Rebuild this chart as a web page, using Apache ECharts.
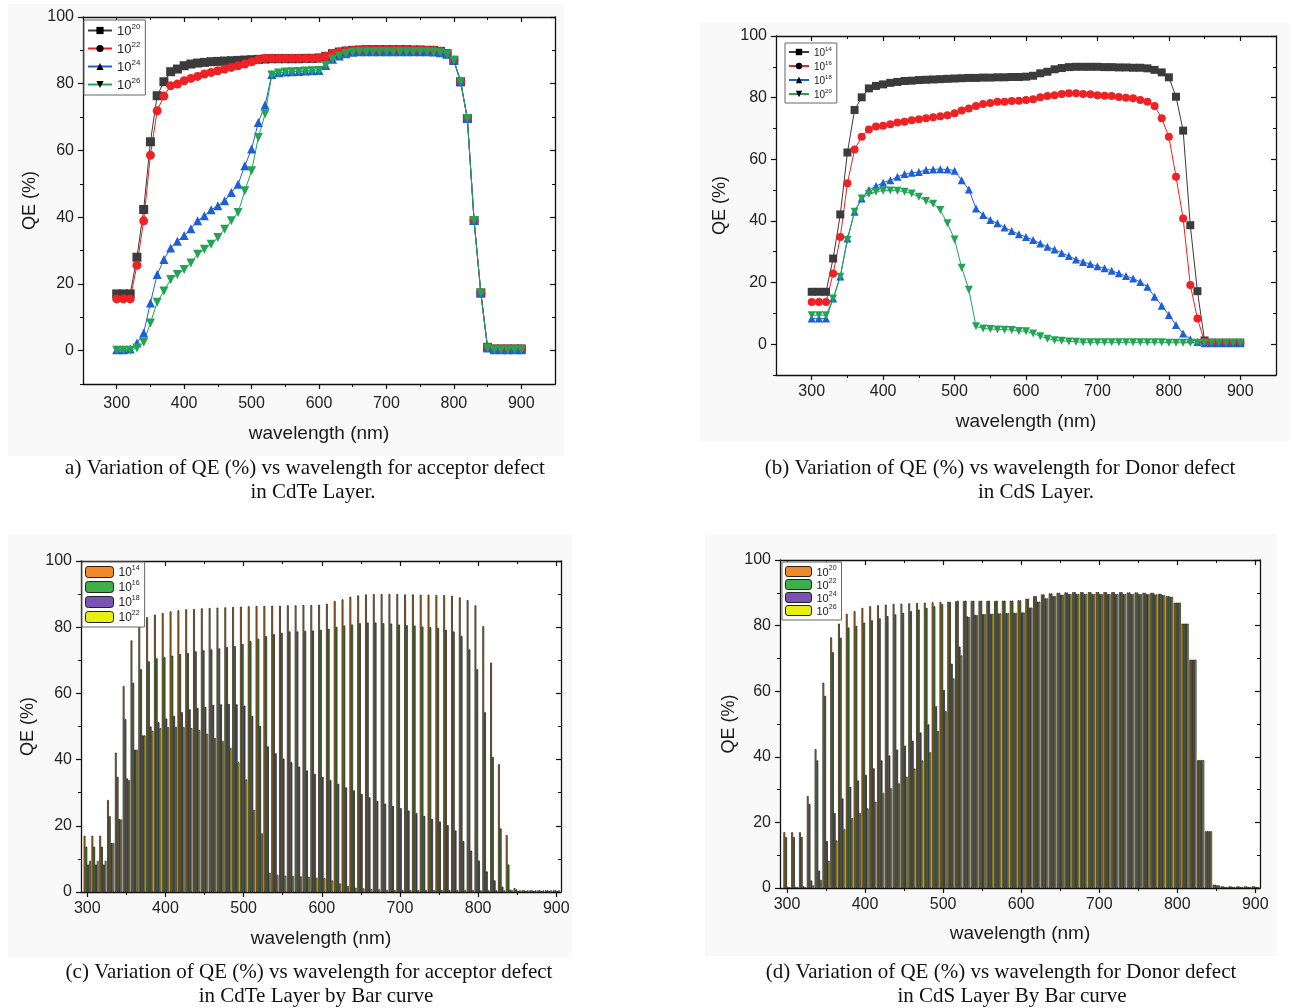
<!DOCTYPE html>
<html><head><meta charset="utf-8">
<script src="https://cdn.jsdelivr.net/npm/echarts@6/dist/echarts.min.js"></script>
<style>html,body{margin:0;padding:0;background:#fff}#c{width:1293px;height:1008px}</style>
</head><body><div id="c"></div>
<script>
// ---------------- DATA ----------------
const wavelength = [300,310,320,330,340,350,360,370,380,390,
  400,410,420,430,440,450,460,470,480,490,
  500,510,520,530,540,550,560,570,580,590,
  600,610,620,630,640,650,660,670,680,690,
  700,710,720,730,740,750,760,770,780,790,
  800,810,820,830,840,850,860,870,880,890,900];

// Panel (a)/(d): acceptor defect in CdTe
const qeA_1e20 = [17,17,17,28,42.3,62.6,76.4,80.6,83.6,84.4,
  85.4,85.9,86.2,86.4,86.6,86.7,86.8,86.9,87,87.1,
  87.2,87.3,87.4,87.5,87.5,87.5,87.5,87.5,87.6,87.6,
  87.7,88.2,89,89.5,89.8,90,90.1,90.2,90.2,90.2,
  90.2,90.2,90.2,90.2,90.1,90.1,90,90,89.7,89,
  87,80.6,69.6,39,17.3,1,0.5,0.5,0.5,0.5,0.5];
const qeA_1e22 = [15.5,15.5,15.5,25.6,38.9,58.6,71.9,76.3,79.4,79.9,
  80.9,81.6,82.2,82.9,83.4,83.9,84.4,84.9,85.4,85.9,
  86.6,87.2,87.6,87.6,87.6,87.6,87.6,87.6,87.6,87.6,
  87.7,88.2,89,89.5,89.8,90,90.1,90.2,90.2,90.2,
  90.2,90.2,90.2,90.2,90.1,90.1,90,90,89.7,89,
  87,80.6,69.6,39,17.3,1,0.5,0.5,0.5,0.5,0.5];
const qeA_1e24 = [0.3,0.3,0.5,2.3,5.3,14.3,22.8,27.3,30.8,32.8,
  34.5,36.5,38.9,40.4,42.2,43.4,44.9,47.4,49.9,55.4,
  60.4,68.4,73.6,82.8,83.3,83.5,83.6,83.7,83.8,83.9,
  84,85.5,87.3,88.3,89,89.4,89.6,89.6,89.6,89.6,
  89.6,89.6,89.6,89.6,89.6,89.6,89.6,89.5,89.3,88.8,
  87,80.6,69.6,39,17.3,0.8,0.3,0.3,0.3,0.3,0.3];
const qeA_1e26 = [0.1,0.1,0.1,0.8,2.5,8.3,14.5,17.9,21.3,22.8,
  24.3,26.3,28.9,30.4,31.9,33.9,36.4,38.9,41.4,47.9,
  53.9,63.9,70.9,82.6,83.2,83.5,83.6,83.7,83.8,83.9,
  84,85.5,87.3,88.3,89,89.4,89.6,89.6,89.6,89.6,
  89.6,89.6,89.6,89.6,89.6,89.6,89.6,89.5,89.3,88.8,
  87,80.6,69.6,39,17.3,0.8,0.3,0.3,0.3,0.3,0.3];

// Panel (b)/(c): donor defect in CdS
const qeB_1e14 = [17,17,17,27.8,42.1,62.2,76,80.1,83,83.8,
  84.3,84.8,85.1,85.4,85.5,85.7,85.8,85.9,86,86.1,
  86.2,86.3,86.4,86.4,86.5,86.5,86.6,86.6,86.7,86.7,
  86.8,87.1,87.9,88.4,89.2,89.6,89.9,90,90,90,
  90,89.9,89.9,89.8,89.8,89.7,89.7,89.5,89,88.2,
  86.6,80.3,69.3,38.6,17.2,1.2,0.5,0.5,0.5,0.5,0.5];
const qeB_1e16 = [13.7,13.7,13.7,22.9,34.8,52.2,63.2,67.3,69.7,70.6,
  70.9,71.4,71.9,72.2,72.7,73,73.3,73.6,74,74.3,
  74.9,75.8,76.5,77.3,77.9,78.3,78.7,78.7,78.9,79,
  79.2,79.5,80.1,80.5,80.8,81.2,81.4,81.4,81.2,81.1,
  80.8,80.6,80.5,80.2,80,79.8,79.2,78.7,77.3,73.3,
  67.3,54.3,40.8,19.2,8.3,0.8,0.5,0.5,0.5,0.5,0.5];
const qeB_1e18 = [8.3,8.3,8.3,14.8,22,34.3,43,47.3,50,51.3,
  52.4,53.2,54.3,55.2,55.6,55.9,56.5,56.7,56.8,56.7,
  56.3,53.2,50.2,44,41.9,40.3,39.2,37.9,36.7,35.7,
  34.8,33.8,32.7,31.6,30.7,29.6,28.6,27.5,26.7,26,
  25.3,24.6,23.8,23,22.1,21.3,20.2,18.6,15.4,12.5,
  9.5,6.2,3.5,1.6,0.7,0.3,0.3,0.3,0.3,0.3,0.3];
const qeB_1e20 = [9.4,9.4,9.4,14.8,21.9,33.8,43,47.3,48.7,49.5,
  49.8,49.9,49.8,49.5,48.9,47.8,46.5,45.6,43.5,39.2,
  34,24.8,17.7,5.8,5.1,4.9,4.8,4.7,4.6,4.3,
  4.2,3.5,2.6,1.8,1.3,1.1,0.9,0.8,0.6,0.6,
  0.6,0.6,0.6,0.6,0.6,0.6,0.6,0.6,0.6,0.6,
  0.5,0.5,0.5,0.5,0.5,0.5,0.5,0.5,0.5,0.5,0.5];

// tick labels
const xMajorTicks = [300,400,500,600,700,800,900];
const xMinorTicks = [250,350,450,550,650,750,850,950];
const yMajorTicks = [0,20,40,60,80,100];
const yMinorTicks = [-10,10,30,50,70,90];

// legend labels (exponent of 10)
const legendA = ['20','22','24','26'];
const legendB = ['14','16','18','20'];
const legendC = ['14','16','18','22'];
const legendD = ['20','22','24','26'];

const captions = [
  ['a) Variation of QE (%) vs wavelength for acceptor defect', 'in CdTe Layer.'],
  ['(b) Variation of QE (%) vs wavelength for Donor defect', 'in CdS Layer.'],
  ['(c) Variation of QE (%) vs wavelength for acceptor defect', 'in CdTe Layer by Bar curve'],
  ['(d) Variation of QE (%) vs wavelength for Donor defect', 'in CdS Layer By Bar curve']
];

// ---------------- STYLE / LAYOUT ----------------
const FONT = '"Liberation Sans", Arial, sans-serif';
const lineColors = ['#3b3b3b', '#ee2224', '#1d5fd8', '#22a454'];
const barColors = ['#f0892a', '#3cae4a', '#7a52b3', '#e6ef10'];
const invTri = 'path://M0,0L10,0L5,9Z';
const lineSymbols = ['rect', 'circle', 'triangle', invTri];

const panels = [
  {grid:{left:83, top:17, width:472, height:367}, xmin:250, xmax:950, ymin:-10, ymax:100, xm:12, ym:9, xg:40, yg:44},
  {grid:{left:776, top:36, width:500, height:339}, xmin:250, xmax:950, ymin:-10, ymax:100, xm:9, ym:9, xg:37, yg:47},
  {grid:{left:81, top:561, width:480, height:331}, xmin:292, xmax:906, ymin:0, ymax:100, xm:9, ym:9, xg:37, yg:44},
  {grid:{left:780, top:560, width:480, height:328}, xmin:291, xmax:906, ymin:0, ymax:100, xm:9, ym:9, xg:36, yg:42}
];

const xAxes = [], yAxes = [], grids = [];
const mainX = [], mainY = [];
const AX = '#111';
panels.forEach((p, g) => {
  grids.push(Object.assign({containLabel:false}, p.grid));
  const xMin = xMinorTicks.filter(v => v > p.xmin && v < p.xmax);
  const yMin = yMinorTicks.filter(v => v >= p.ymin && v <= p.ymax);
  const base = {type:'value', gridIndex:g, splitLine:{show:false}};
  mainX.push(xAxes.length);
  xAxes.push(Object.assign({}, base, {
    min:p.xmin, max:p.xmax, position:'bottom',
    name:'wavelength (nm)', nameLocation:'middle', nameGap:p.xg,
    nameTextStyle:{fontFamily:FONT, fontSize:19, color:'#1a1a1a'},
    axisLine:{show:true, onZero:false, lineStyle:{color:AX, width:1.3}},
    axisTick:{show:true, inside:false, length:5, customValues:xMajorTicks, lineStyle:{color:AX, width:1.2}},
    axisLabel:{show:true, customValues:xMajorTicks, margin:p.xm, fontFamily:FONT, fontSize:16, color:'#222'}
  }));
  xAxes.push(Object.assign({}, base, {
    min:p.xmin, max:p.xmax, position:'bottom',
    axisLine:{show:false, onZero:false},
    axisTick:{show:true, inside:false, length:3, customValues:xMin, lineStyle:{color:AX, width:1}},
    axisLabel:{show:false, customValues:xMin}
  }));
  xAxes.push(Object.assign({}, base, {
    min:p.xmin, max:p.xmax, position:'top',
    axisLine:{show:true, onZero:false, lineStyle:{color:AX, width:1.3}},
    axisTick:{show:true, inside:true, length:5, customValues:xMajorTicks, lineStyle:{color:AX, width:1.2}},
    axisLabel:{show:false, customValues:xMajorTicks}
  }));
  xAxes.push(Object.assign({}, base, {
    min:p.xmin, max:p.xmax, position:'top',
    axisLine:{show:false, onZero:false},
    axisTick:{show:true, inside:true, length:3, customValues:xMin, lineStyle:{color:AX, width:1}},
    axisLabel:{show:false, customValues:xMin}
  }));
  mainY.push(yAxes.length);
  yAxes.push(Object.assign({}, base, {
    min:p.ymin, max:p.ymax, position:'left',
    name:'QE (%)', nameLocation:'middle', nameGap:p.yg, nameRotate:90,
    nameTextStyle:{fontFamily:FONT, fontSize:18, color:'#1a1a1a'},
    axisLine:{show:true, onZero:false, lineStyle:{color:AX, width:1.3}},
    axisTick:{show:true, inside:false, length:5, customValues:yMajorTicks, lineStyle:{color:AX, width:1.2}},
    axisLabel:{show:true, customValues:yMajorTicks, margin:p.ym, fontFamily:FONT, fontSize:16, color:'#222'}
  }));
  yAxes.push(Object.assign({}, base, {
    min:p.ymin, max:p.ymax, position:'left',
    axisLine:{show:false, onZero:false},
    axisTick:{show:true, inside:false, length:3, customValues:yMin, lineStyle:{color:AX, width:1}},
    axisLabel:{show:false, customValues:yMin}
  }));
  yAxes.push(Object.assign({}, base, {
    min:p.ymin, max:p.ymax, position:'right',
    axisLine:{show:true, onZero:false, lineStyle:{color:AX, width:1.3}},
    axisTick:{show:true, inside:true, length:5, customValues:yMajorTicks, lineStyle:{color:AX, width:1.2}},
    axisLabel:{show:false, customValues:yMajorTicks}
  }));
  yAxes.push(Object.assign({}, base, {
    min:p.ymin, max:p.ymax, position:'right',
    axisLine:{show:false, onZero:false},
    axisTick:{show:true, inside:true, length:3, customValues:yMin, lineStyle:{color:AX, width:1}},
    axisLabel:{show:false, customValues:yMin}
  }));
});

const pairs = arr => wavelength.map((w, i) => [w, arr[i]]);
const labelMap = {};
const series = [];

function addLines(g, prefix, arrays, exps, size) {
  arrays.forEach((arr, k) => {
    const name = prefix + exps[k];
    labelMap[name] = exps[k];
    series.push({
      type:'line', name, xAxisIndex:mainX[g], yAxisIndex:mainY[g],
      data:pairs(arr), symbol:lineSymbols[k], symbolSize:size,
      showAllSymbol:true, animation:false,
      itemStyle:{color:lineColors[k]},
      lineStyle:{color:lineColors[k], width:1}
    });
  });
}
function addBars(g, prefix, arrays, exps) {
  arrays.forEach((arr, k) => {
    const name = prefix + exps[k];
    labelMap[name] = exps[k];
    series.push({
      type:'bar', name, xAxisIndex:mainX[g], yAxisIndex:mainY[g],
      data:pairs(arr), barWidth:1.8, barGap:'0%', animation:false,
      itemStyle:{color:barColors[k], borderColor:'#15140c', borderWidth:0.7}
    });
  });
}
addLines(0, 'a', [qeA_1e20, qeA_1e22, qeA_1e24, qeA_1e26], legendA, 9);
addLines(1, 'b', [qeB_1e14, qeB_1e16, qeB_1e18, qeB_1e20], legendB, 8);
addBars(2, 'c', [qeB_1e14, qeB_1e16, qeB_1e18, qeB_1e20], legendC);
addBars(3, 'd', [qeA_1e20, qeA_1e22, qeA_1e24, qeA_1e26], legendD);

function legendFor(prefix, exps, pos, fs, iw, ih, gap, isBar) {
  const lh = Math.round(fs * 1.15);
  return Object.assign({
    orient:'vertical', data:exps.map(e => prefix + e),
    itemWidth:iw, itemHeight:ih, itemGap:gap,
    backgroundColor:'#fff', borderColor:'#666', borderWidth:1, borderRadius:0,
    padding:[3,5,3,3], selectedMode:false,
    formatter: n => '{b|10}{s|' + labelMap[n] + '}',
    textStyle:{fontFamily:FONT, fontSize:fs, color:'#222',
      rich:{
        b:{fontSize:fs, lineHeight:lh, verticalAlign:'bottom', color:'#222', fontFamily:FONT},
        s:{fontSize:Math.round(fs*0.62), verticalAlign:'top', color:'#222', fontFamily:FONT}
      }},
    itemStyle: isBar ? {borderColor:'#222', borderWidth:1} : undefined
  }, pos);
}

const legends = [
  legendFor('a', legendA, {left:84, top:20}, 13, 24, 9, 3, false),
  legendFor('b', legendB, {left:785, top:43}, 10, 20, 8, 2, false),
  legendFor('c', legendC, {left:82, top:562}, 12, 28, 11, 1, true),
  legendFor('d', legendD, {left:782, top:562}, 11, 26, 10, 0, true)
];

const capCenters = [[305, 468, 313, 492], [1000, 468, 1036, 492], [309, 972, 316, 996], [1001, 972, 1012, 996]];
const CAPFONT = '21px "Liberation Serif", "Times New Roman", serif';
const graphics = [];
[[8,4,556,452],[700,22,590,420],[8,534,564,424],[705,534,572,422]].forEach(r => {
  graphics.push({type:'rect', z:-10, silent:true, shape:{x:r[0], y:r[1], width:r[2], height:r[3]}, style:{fill:'#f9f9f9'}});
});
panels.forEach(p => {
  graphics.push({type:'rect', z:-9, silent:true, shape:{x:p.grid.left, y:p.grid.top, width:p.grid.width, height:p.grid.height}, style:{fill:'#ffffff'}});
});
captions.forEach((c, i) => {
  const cc = capCenters[i];
  graphics.push({type:'text', x:cc[0], y:cc[1], style:{text:c[0], fill:'#111', font:CAPFONT, textAlign:'center', textVerticalAlign:'middle'}});
  graphics.push({type:'text', x:cc[2], y:cc[3], style:{text:c[1], fill:'#111', font:CAPFONT, textAlign:'center', textVerticalAlign:'middle'}});
});

const chart = echarts.init(document.getElementById('c'), null, {renderer:'canvas', width:1293, height:1008});
chart.setOption({
  backgroundColor:'#ffffff',
  animation:false,
  grid:grids, xAxis:xAxes, yAxis:yAxes,
  legend:legends, series, graphic:graphics
});
</script>
</body></html>
